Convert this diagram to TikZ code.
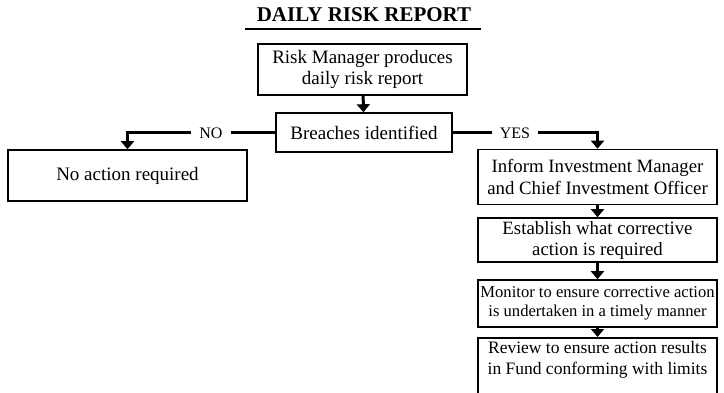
\documentclass[tikz,border=0pt]{standalone}
\usepackage{fontspec}
\setmainfont{Liberation Serif}
\usetikzlibrary{arrows.meta}
\begin{document}
\begin{tikzpicture}[x=1pt,y=-1pt,
  box/.style={draw,line width=1.6pt,align=center,inner sep=0pt,font=\fontsize{19}{21.5}\selectfont},
  conn/.style={line width=3pt,-{Triangle[width=13pt,length=8pt]}},
  plain/.style={line width=3pt},
  lbl/.style={font=\fontsize{16}{18}\selectfont,inner sep=0pt}]
\useasboundingbox (0,0) rectangle (724,393);
\node[font=\bfseries\fontsize{21}{24}\selectfont,inner sep=0pt] (title) at (364,15) {DAILY RISK REPORT};
\draw[line width=1.3pt] (245,29) -- (481,29);
\node[box,minimum width=209pt,minimum height=51pt] (b1) at (362.5,69.5) {Risk Manager produces\\daily risk report};
\node[box,minimum width=176pt,minimum height=39pt] (b2) at (364,132.5) {Breaches identified};
\node[box,minimum width=239pt,minimum height=51pt] (b0) at (127.5,175.5) {No action required};
\node[box,minimum width=239pt,minimum height=55pt,font=\fontsize{18.8}{21.5}\selectfont] (b3) at (597.5,177) {Inform Investment Manager\\and Chief Investment Officer};
\node[box,minimum width=239pt,minimum height=44pt,font=\fontsize{18.8}{21}\selectfont] (b4) at (597.5,240) {Establish what corrective\\action is required};
\node[box,minimum width=239pt,minimum height=47pt,font=\fontsize{16.6}{19}\selectfont] (b5) at (597.5,303.5) {Monitor to ensure corrective action\\is undertaken in a timely manner};
\node[box,minimum width=239pt,minimum height=60pt,anchor=north] (b6) at (597.5,337) {};
\node[font=\fontsize{17.5}{20.5}\selectfont,align=center,inner sep=0pt] (b6t) at (597.5,360) {Review to ensure action results\\in Fund conforming with limits};
\draw[conn] (b1) -- (b2);
\node[lbl] (no) at (211,133) {NO};
\node[lbl] (yes) at (515,133) {YES};
\coordinate (nc) at (b0.north |- no);
\coordinate (yc) at (b3.north |- yes);
\draw[plain] (b2.west |- no) -- ([xshift=8pt]no.east);
\draw[conn] ([xshift=-8pt]no.west) -- (nc) -- (b0.north);
\draw[plain] (b2.east |- yes) -- ([xshift=-8pt]yes.west);
\draw[conn] ([xshift=8pt]yes.east) -- (yc) -- (b3.north);
\draw[conn] (b3) -- (b4);
\draw[conn] (b4) -- (b5);
\draw[conn] (b5) -- (b6);
\end{tikzpicture}
\end{document}
